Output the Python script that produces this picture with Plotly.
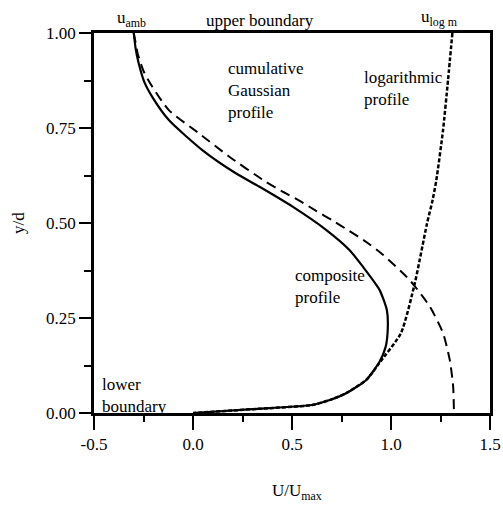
import plotly.graph_objects as go

# Composite profile (solid)
comp_y = [1.0, 0.96, 0.92, 0.87, 0.832, 0.771, 0.692, 0.631, 0.596, 0.543, 0.482, 0.429,
          0.385, 0.324, 0.271, 0.227, 0.174, 0.135, 0.087, 0.052, 0.034, 0.021, 0.010, 0.0]
comp_u = [-0.299, -0.29, -0.274, -0.245, -0.206, -0.122, 0.047, 0.216, 0.334, 0.503, 0.672, 0.79,
          0.858, 0.942, 0.979, 0.984, 0.973, 0.942, 0.875, 0.773, 0.69, 0.60, 0.30, 0.0]

# Cumulative Gaussian profile (dashed)
gauss_y = [1.0, 0.975, 0.947, 0.90, 0.859, 0.797, 0.736, 0.675, 0.611, 0.585, 0.559, 0.532,
           0.506, 0.479, 0.45, 0.418, 0.35, 0.28, 0.21, 0.139, 0.069, 0.0]
gauss_u = [-0.30, -0.29, -0.28, -0.25, -0.206, -0.122, 0.03, 0.182, 0.36, 0.444, 0.537, 0.622,
           0.706, 0.79, 0.875, 0.956, 1.094, 1.196, 1.263, 1.297, 1.314, 1.318]

# Logarithmic profile (dotted)
log_y = [1.0, 0.876, 0.745, 0.613, 0.56, 0.499, 0.341, 0.21, 0.131, 0.109, 0.087, 0.052,
         0.034, 0.021, 0.010, 0.0]
log_u = [1.31, 1.288, 1.263, 1.229, 1.21, 1.182, 1.12, 1.05, 0.94, 0.91, 0.875, 0.773,
         0.69, 0.60, 0.30, 0.0]

x_ticks = [-0.5, 0.0, 0.5, 1.0, 1.5]
x_tick_text = ["-0.5", "0.0", "0.5", "1.0", "1.5"]
y_ticks = [0.0, 0.25, 0.5, 0.75, 1.0]
y_tick_text = ["0.00", "0.25", "0.50", "0.75", "1.00"]

FONT = "Liberation Serif, Times New Roman, serif"
FS = 17

fig = go.Figure()
fig.add_trace(go.Scatter(x=gauss_u, y=gauss_y, mode="lines",
                         line=dict(color="black", width=2, dash="10px,6px", shape="spline", smoothing=0.6),
                         showlegend=False))
fig.add_trace(go.Scatter(x=log_u, y=log_y, mode="lines",
                         line=dict(color="black", width=2.5, dash="4px,2px", shape="spline", smoothing=0.6),
                         showlegend=False))
fig.add_trace(go.Scatter(x=comp_u, y=comp_y, mode="lines",
                         line=dict(color="black", width=2.2, shape="spline", smoothing=0.6),
                         showlegend=False))

fig.update_layout(
    width=503, height=506, autosize=False,
    margin=dict(l=94, r=13, t=33, b=93, autoexpand=False),
    paper_bgcolor="white", plot_bgcolor="white",
    font=dict(family=FONT, size=FS, color="black"),
    xaxis=dict(range=[-0.5, 1.5], tickvals=x_ticks, ticktext=x_tick_text, automargin=False,
               ticks="outside", ticklen=14, tickwidth=2, tickcolor="black",
               minor=dict(ticks="outside", ticklen=6, tickwidth=2, dtick=0.25, tickcolor="black"),
               showline=True, linewidth=2.5, linecolor="black", mirror=True,
               showgrid=False, zeroline=False, tickfont=dict(family=FONT, size=FS)),
    yaxis=dict(range=[0, 1], tickvals=y_ticks, ticktext=y_tick_text, automargin=False,
               ticks="outside", ticklen=12, tickwidth=2, tickcolor="black",
               minor=dict(ticks="outside", ticklen=7, tickwidth=2, dtick=0.125, tickcolor="black"),
               showline=True, linewidth=2.5, linecolor="black", mirror=True,
               showgrid=False, zeroline=False, tickfont=dict(family=FONT, size=FS)),
)

def note(text, x, y, xanchor="left", xref="x", yref="y", angle=0):
    fig.add_annotation(text=text, x=x, y=y, xref=xref, yref=yref, xanchor=xanchor,
                       yanchor="middle", showarrow=False, align="left", textangle=angle,
                       font=dict(family=FONT, size=FS, color="black"))

note("u<sub>amb</sub>", -0.31, 1.036, xanchor="center", yref="paper")
note("upper boundary", 0.339, 1.034, xanchor="center", yref="paper")
note("u<sub>log m</sub>", 1.246, 1.04, xanchor="center", yref="paper")
note("cumulative<br>Gaussian<br>profile", 0.166, 0.85)
note("logarithmic<br>profile", 0.851, 0.853)
note("composite<br>profile", 0.507, 0.333)
note("lower<br>boundary", -0.468, 0.047)
note("U/U<sub>max</sub>", 0.513, -0.208, xanchor="center", xref="paper", yref="paper")
note("y/d", -0.192, 0.5, xanchor="center", xref="paper", yref="paper", angle=-90)

fig.write_html("out.html",
               config={"displayModeBar": False, "responsive": False},
               post_script="document.body.style.margin='0';document.body.style.overflow='hidden';")
